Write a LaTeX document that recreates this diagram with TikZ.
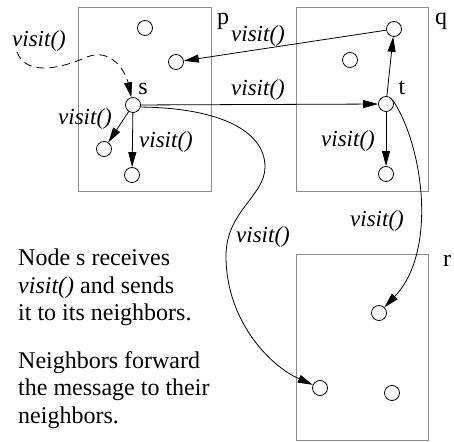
\documentclass[tikz,border=0pt]{standalone}
\usepackage{fontspec}
\setmainfont{Liberation Serif}
\newfontfamily\labelfont{Liberation Serif}
\usetikzlibrary{arrows.meta}
\begin{document}
\begin{tikzpicture}[x=10pt,y=10pt,
  >={Triangle[length=15pt,width=8pt]},
  spot/.style={draw,circle,minimum size=15pt,inner sep=0pt,line width=0.8pt},
  cell/.style={draw=black!45,line width=1pt},
  msg/.style={font=\labelfont\fontsize{23}{27}\selectfont\itshape,anchor=base},
  tag/.style={font=\labelfont\fontsize{24}{28}\selectfont,anchor=base},
  note/.style={font=\labelfont\fontsize{24}{27.5}\selectfont,align=left,anchor=base west,inner sep=0pt}]
\useasboundingbox (0,0) rectangle (45.4,44.1);
% processes
\draw[cell] (7.8,24.9) rectangle (21.1,43.3);
\draw[cell] (29.6,24.9) rectangle (42.8,43.3);
\draw[cell] (29.6,0.1) rectangle (42.8,18.6);
\node[tag] (lp) at (22.3,41.6) {p};
\node[tag] (lq) at (44.1,41.6) {q};
\node[tag] (lr) at (44.7,17.4) {r};
% nodes of p
\node[spot] (pa) at (14.5,41.3) {};
\node[spot] (pb) at (17.6,37.9) {};
\node[spot] (s) at (13.3,33.6) {};
\node[spot] (pc) at (10.4,29.2) {};
\node[spot] (pd) at (13.2,26.6) {};
\node[tag] (ls) at (14.3,34.6) {s};
% nodes of q
\node[spot] (qa) at (39.4,41.2) {};
\node[spot] (qb) at (35.0,38.1) {};
\node[spot] (t) at (38.6,33.7) {};
\node[spot] (qc) at (38.6,26.7) {};
\node[tag] (lt) at (40.2,34.6) {t};
% nodes of r
\node[spot] (ra) at (37.9,12.8) {};
\node[spot] (rb) at (32.0,5.3) {};
\node[spot] (rc) at (39.2,4.8) {};
% messages
\coordinate (src) at (1.7,38.9);
\draw[line width=0.8pt,dash pattern=on 8pt off 5pt,->] (src) .. controls (2.6,36.5) and (6.0,37.2) .. (8.7,38.4)
  .. controls (11.2,39.4) and (12.6,36.8) .. (s);
\draw[line width=0.8pt,->] (qa) -- (pb);
\draw[line width=0.8pt,->] (s) -- (t);
\draw[line width=0.8pt,->] (s) -- (pc);
\draw[line width=0.8pt,->] (s) -- (pd);
\draw[line width=0.8pt,->] (t) -- (qa);
\draw[line width=0.8pt,->] (t) -- (qc);
\draw[line width=0.8pt,->] (s.-15) .. controls (22,33.3) and (26.5,31) .. (26.5,27.4)
  .. controls (26.5,24.5) and (22.6,23) .. (22.6,18.5)
  .. controls (22.6,12) and (27,7.5) .. (rb);
\draw[line width=0.8pt,->] (t.25) .. controls (42.3,29.5) and (43.8,19) .. (ra);
\node[msg] (m1) at (3.9,39.4) {visit()};
\node[msg] (m2) at (25.8,39.9) {visit()};
\node[msg] (m3) at (25.8,34.5) {visit()};
\node[msg] (m4) at (8.5,31.6) {visit()};
\node[msg] (m5) at (16.6,29.3) {visit()};
\node[msg] (m6) at (34.8,29.4) {visit()};
\node[msg] (m7) at (37.7,21.4) {visit()};
\node[msg] (m8) at (26.3,19.8) {visit()};
% explanation
\node[note] (n1) at (1.8,12.0) {Node s receives\\\textit{visit()} and sends\\it to its neighbors.};
\node[note] (n2) at (1.8,1.8) {Neighbors forward\\the message to their\\neighbors.};
\end{tikzpicture}
\end{document}
